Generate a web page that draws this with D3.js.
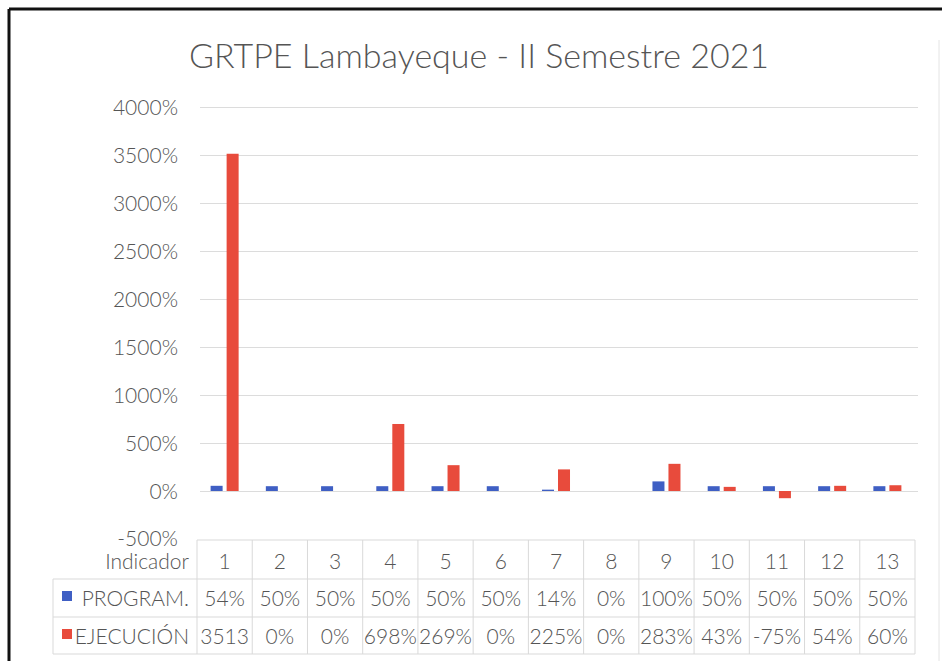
<!DOCTYPE html>
<html>
<head>
<meta charset="utf-8">
<script src="https://cdn.jsdelivr.net/npm/d3@7"></script>
<style>
  body { margin: 0; background: #fff; }
  text { font-family: Lato, "Open Sans", sans-serif; font-weight: 300; fill: #555; }
</style>
</head>
<body>
<svg id="chart"></svg>
<script>
var width = 942,
    height = 661;

// data
var indicadores = ["1", "2", "3", "4", "5", "6", "7", "8", "9", "10", "11", "12", "13"];
var series = ["PROGRAM.", "EJECUCIÓN"];
var program = [54, 50, 50, 50, 50, 50, 14, 0, 100, 50, 50, 50, 50];
var ejecucion = [3513, 0, 0, 698, 269, 0, 225, 0, 283, 43, -75, 54, 60];
// texts as shown in the data table (first one is cut off in the original)
var programLabels = ["54%", "50%", "50%", "50%", "50%", "50%", "14%", "0%", "100%", "50%", "50%", "50%", "50%"];
var ejecucionLabels = ["3513", "0%", "0%", "698%", "269%", "0%", "225%", "0%", "283%", "43%", "-75%", "54%", "60%"];
var yTicks = [-500, 0, 500, 1000, 1500, 2000, 2500, 3000, 3500, 4000];
var colors = ["#3f5fc4", "#e84b3c"];

var svg = d3.select("#chart")
    .attr("width", width)
    .attr("height", height);

// scanned frame
svg.append("line").attr("x1", 9).attr("y1", 9).attr("x2", 942).attr("y2", 9)
    .style("stroke", "#111").style("stroke-width", 3);
svg.append("line").attr("x1", 9).attr("y1", 9).attr("x2", 9).attr("y2", 661)
    .style("stroke", "#111").style("stroke-width", 3);
svg.append("line").attr("x1", 939).attr("y1", 40).attr("x2", 939).attr("y2", 661)
    .style("stroke", "#e4e4e4").style("stroke-width", 1);

// title
svg.append("text")
    .attr("x", 479)
    .attr("y", 68)
    .attr("text-anchor", "middle")
    .style("font-size", "34px")
    .text("GRTPE Lambayeque - II Semestre 2021");

var tableLeft = 197, tableRight = 915;

var x = d3.scaleBand()
    .domain(indicadores)
    .range([tableLeft, tableRight]);

var x1 = d3.scaleBand()
    .domain(series)
    .range([0, x.bandwidth()])
    .paddingInner(0.25)
    .paddingOuter(0.85);

var y = d3.scaleLinear()
    .domain([-500, 4000])
    .range([539, 107]);

// gridlines
svg.append("g")
    .selectAll("line")
    .data(yTicks.filter(function (d) { return d > -500; }))
    .enter().append("line")
    .attr("x1", 200)
    .attr("x2", 918)
    .attr("y1", function (d) { return y(d) + 0.5; })
    .attr("y2", function (d) { return y(d) + 0.5; })
    .style("stroke", "#dcdcdc")
    .style("stroke-width", 1);

// y tick labels
svg.append("g")
    .selectAll("text")
    .data(yTicks)
    .enter().append("text")
    .attr("x", 178)
    .attr("y", function (d) { return d == -500 ? y(d) - 1 : y(d); })
    .attr("dy", "0.36em")
    .attr("text-anchor", "end")
    .style("font-size", "21px")
    .text(function (d) { return d + "%"; });

// bars
var values = [program, ejecucion];
for (var s = 0; s < series.length; s++) {
    svg.append("g")
        .style("fill", colors[s])
        .selectAll("rect")
        .data(values[s])
        .enter().append("rect")
        .attr("x", function (d, i) { return x(indicadores[i]) + x1(series[s]); })
        .attr("width", x1.bandwidth())
        .attr("y", function (d) { return y(Math.max(0, d)); })
        .attr("height", function (d) { return Math.abs(y(d) - y(0)); });
}

// data table
var rowTop = [540, 579, 617, 654];
var tbl = svg.append("g").style("stroke", "#d9d9d9").style("stroke-width", 1);

tbl.append("line").attr("x1", tableLeft).attr("x2", tableRight).attr("y1", rowTop[0]).attr("y2", rowTop[0]);
for (var r = 1; r < rowTop.length; r++) {
    tbl.append("line").attr("x1", 53).attr("x2", tableRight).attr("y1", rowTop[r]).attr("y2", rowTop[r]);
}
tbl.selectAll(".col")
    .data(indicadores.concat(["end"]))
    .enter().append("line")
    .attr("x1", function (d, i) { return tableLeft + i * x.step(); })
    .attr("x2", function (d, i) { return tableLeft + i * x.step(); })
    .attr("y1", rowTop[0])
    .attr("y2", rowTop[3]);
tbl.append("line").attr("x1", 53).attr("x2", 53).attr("y1", rowTop[1]).attr("y2", rowTop[3]);

var rowMid = [561, 598, 636];

svg.append("text")
    .attr("x", 189).attr("y", rowMid[0]).attr("dy", "0.36em")
    .attr("text-anchor", "end")
    .style("font-size", "21px")
    .text("Indicador");

svg.append("g")
    .selectAll("text")
    .data(indicadores)
    .enter().append("text")
    .attr("x", function (d) { return x(d) + x.bandwidth() / 2; })
    .attr("y", rowMid[0]).attr("dy", "0.36em")
    .attr("text-anchor", "middle")
    .style("font-size", "21px")
    .text(function (d) { return d; });

var labels = [programLabels, ejecucionLabels];
for (var k = 0; k < series.length; k++) {
    svg.append("rect")
        .attr("x", 62).attr("y", rowMid[k + 1] - 7)
        .attr("width", 10).attr("height", 10)
        .style("fill", colors[k]);
    svg.append("text")
        .attr("x", 189).attr("y", rowMid[k + 1]).attr("dy", "0.36em")
        .attr("text-anchor", "end")
        .style("font-size", "21px")
        .text(series[k]);
    svg.append("g")
        .selectAll("text")
        .data(labels[k])
        .enter().append("text")
        .attr("x", function (d, i) { return x(indicadores[i]) + x.bandwidth() / 2; })
        .attr("y", rowMid[k + 1]).attr("dy", "0.36em")
        .attr("text-anchor", "middle")
        .style("font-size", "21px")
        .text(function (d) { return d; });
}
</script>
</body>
</html>
